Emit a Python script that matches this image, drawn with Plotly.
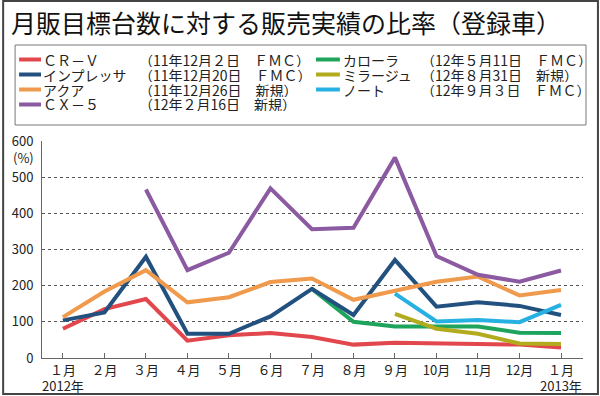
import plotly.graph_objects as go

months = ["１月", "２月", "３月", "４月", "５月", "６月", "７月", "８月", "９月", "10月", "11月", "12月", "１月"]
x_idx = list(range(len(months)))

crv      = [81, 135, 163, 48, 63, 69, 58, 37, 42, 41, 39, 37, 29]
impreza  = [104, 126, 280, 67, 67, 115, 191, 119, 271, 142, 154, 144, 119]
aqua     = [113, 184, 243, 154, 168, 210, 220, 161, 186, 211, 225, 173, 188]
cx5      = [None, None, 466, 243, 291, 469, 356, 360, 554, 282, 230, 211, 242]
corolla  = [None, None, None, None, None, None, 191, 100, 87, 87, 87, 70, 69]
mirage   = [None, None, None, None, None, None, None, None, 122, 81, 67, 40, 39]
note     = [None, None, None, None, None, None, None, None, 178, 101, 105, 99, 147]

names = ["ＣＲ－Ｖ", "インプレッサ", "アクア", "ＣＸ－５", "カローラ", "ミラージュ", "ノート"]
dates = ["（11年12月２日　ＦＭＣ）", "（11年12月20日　ＦＭＣ）", "（11年12月26日　新規）",
         "（12年２月16日　新規）", "（12年５月11日　ＦＭＣ）", "（12年８月31日　新規）",
         "（12年９月３日　ＦＭＣ）"]
colors = ["#e2474d", "#22507f", "#ef9a4c", "#8b5aa1", "#1ea45c", "#b3ab1e", "#26b1e2"]
series = [crv, impreza, aqua, cx5, corolla, mirage, note]

y_ticks = [0, 100, 200, 300, 400, 500, 600]

FONT = "Noto Sans CJK JP"
W, H = 600, 396
PL, PR, PT, PB = 40, 583, 141, 358


def px(x):
    return (x - PL) / (PR - PL)


def py(y):
    return (PB - y) / (PB - PT)


fig = go.Figure()
draw_order = [4, 0, 1, 2, 3, 5, 6]
for i in draw_order:
    fig.add_trace(go.Scatter(
        x=x_idx, y=series[i], mode="lines", name=names[i],
        line=dict(color=colors[i], width=4), showlegend=False,
        connectgaps=False,
    ))

fig.update_layout(
    width=W, height=H,
    margin=dict(l=PL, r=W - PR, t=PT, b=H - PB, pad=0),
    paper_bgcolor="white", plot_bgcolor="white",
    font=dict(family=FONT, color="#222", size=13),
)
fig.update_xaxes(
    range=[-0.504, 12.53], tickvals=x_idx, ticktext=months,
    showgrid=False, zeroline=False, showline=True, linecolor="#666", linewidth=1,
    ticks="inside", ticklen=5, tickcolor="#666", tickfont=dict(size=13, color="#222"),
)
fig.update_yaxes(
    range=[0, 600], tickvals=y_ticks, ticktext=[str(v) for v in y_ticks],
    showgrid=True, gridcolor="#555", griddash="dot", gridwidth=1,
    zeroline=False, showline=True, linecolor="#666", linewidth=1,
    ticks="", ticklabelstandoff=5, tickfont=dict(size=13, color="#222"),
)

ann = []
shapes = []
# title
ann.append(dict(text="月販目標台数に対する販売実績の比率（登録車）", x=px(7), y=py(22),
                xref="paper", yref="paper", xanchor="left", yanchor="middle",
                showarrow=False, font=dict(size=25, color="#111", family=FONT)))
# legend box
shapes.append(dict(type="rect", xref="paper", yref="paper", x0=px(13), x1=px(586),
                   y0=py(45), y1=py(125), line=dict(color="#777", width=1)))
left_rows = [59.5, 74.5, 89.5, 104.5]
right_rows = [59.5, 74.5, 89.5]
for i in range(7):
    if i < 4:
        ry = left_rows[i]; kx0, kx1, nx, dx = 17, 39, 40, 136
    else:
        ry = right_rows[i - 4]; kx0, kx1, nx, dx = 315, 339, 341, 419
    shapes.append(dict(type="line", xref="paper", yref="paper", x0=px(kx0), x1=px(kx1),
                       y0=py(ry), y1=py(ry), line=dict(color=colors[i], width=4)))
    ann.append(dict(text=names[i], x=px(nx), y=py(ry), xref="paper", yref="paper",
                    xanchor="left", yanchor="middle", showarrow=False, height=14,
                    borderpad=0, font=dict(size=14, color="#222", family=FONT)))
    ann.append(dict(text=dates[i], x=px(dx), y=py(ry), xref="paper", yref="paper",
                    xanchor="left", yanchor="middle", showarrow=False, height=14,
                    borderpad=0, font=dict(size=14, color="#222", family=FONT)))
# axis extras
ann.append(dict(text="(%)", x=px(21), y=py(157), xref="paper", yref="paper",
                xanchor="center", yanchor="middle", showarrow=False,
                font=dict(size=13, color="#222", family=FONT)))
ann.append(dict(text="2012年", x=px(38), y=py(385), xref="paper", yref="paper",
                xanchor="left", yanchor="middle", showarrow=False,
                font=dict(size=13, color="#222", family=FONT)))
ann.append(dict(text="2013年", x=px(584), y=py(385), xref="paper", yref="paper",
                xanchor="right", yanchor="middle", showarrow=False,
                font=dict(size=13, color="#222", family=FONT)))
# outer frame
shapes.append(dict(type="rect", xref="paper", yref="paper", x0=px(1), x1=px(598),
                   y0=py(1), y1=py(394), line=dict(color="#444", width=2)))

fig.update_layout(annotations=ann, shapes=shapes)
fig.write_html("out.html", config={"displayModeBar": False},
               post_script="document.body.style.margin='0';document.body.style.padding='0';")
